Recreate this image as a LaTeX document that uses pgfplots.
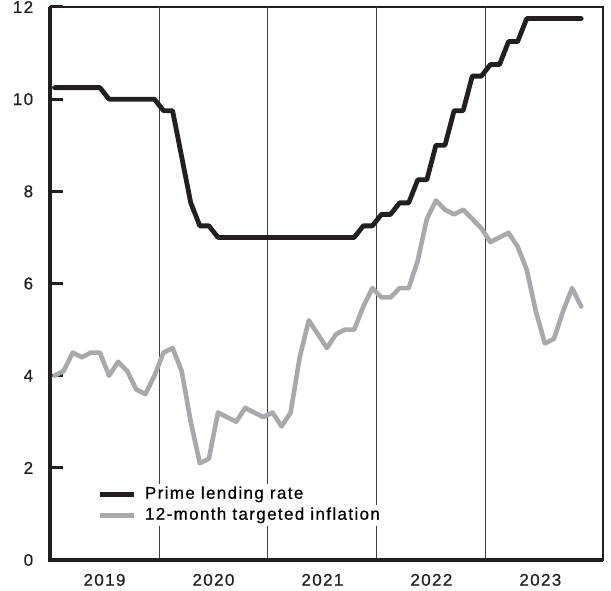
\documentclass[border=0pt]{standalone}
\usepackage{pgfplots}
\pgfplotsset{compat=1.18}
\usepackage{fontspec}
\setmainfont[LetterSpace=8, FakeBold=0.6]{Liberation Sans}
\usetikzlibrary{calc}
\definecolor{primec}{HTML}{231F20}
\definecolor{inflc}{HTML}{A7A9AC}
\begin{document}
\fontsize{17bp}{20bp}\selectfont
\begin{tikzpicture}
\begin{axis}[
  width=553bp, height=553bp, scale only axis,
  xmin=0, xmax=60.9, ymin=0, ymax=12,
  ytick={0,2,4,6,8,10,12},
  xtick={6,18,30,42,54},
  xticklabels={2019,2020,2021,2022,2023},
  /pgf/number format/assume math mode=true,
  tick label style={font=\fontsize{17bp}{20bp}\selectfont, text=primec},
  tick align=inside,
  y tick style={line width=3bp, primec},
  major tick length=13bp,
  ytick pos=left,
  x tick style={draw=none},
  xtick pos=bottom,
  yticklabel style={xshift=-11bp},
  xticklabel style={yshift=-8bp},
  axis line style={line width=2bp, primec},
  extra x ticks={12,24,36,48},
  extra x tick labels={},
  extra x tick style={grid=major, major grid style={line width=0.9bp, black!75}, tick style={draw=none}},
  legend style={draw=none, fill=none, at={(0.081,0.058)}, anchor=south west,
    font=\fontsize{17bp}{20bp}\selectfont, row sep=0pt, column sep=6bp,
    nodes={fill=white, inner sep=2bp, text height=13bp, text depth=4bp}},
  legend cell align=left,
  legend image code/.code={\draw[#1, line width=5bp, line cap=butt] (0bp,0bp) -- (34bp,0bp);},
  clip=false,
]
\addplot[primec, line width=4.8bp, line join=round, line cap=round] coordinates {
(0.5,10.25)(1.5,10.25)(2.5,10.25)(3.5,10.25)(4.5,10.25)(5.5,10.25)(6.5,10.0)(7.5,10.0)(8.5,10.0)(9.5,10.0)(10.5,10.0)(11.5,10.0)
(12.5,9.75)(13.5,9.75)(14.5,8.75)(15.5,7.75)(16.5,7.25)(17.5,7.25)(18.5,7.0)(19.5,7.0)(20.5,7.0)(21.5,7.0)(22.5,7.0)(23.5,7.0)
(24.5,7.0)(25.5,7.0)(26.5,7.0)(27.5,7.0)(28.5,7.0)(29.5,7.0)(30.5,7.0)(31.5,7.0)(32.5,7.0)(33.5,7.0)(34.5,7.25)(35.5,7.25)
(36.5,7.5)(37.5,7.5)(38.5,7.75)(39.5,7.75)(40.5,8.25)(41.5,8.25)(42.5,9.0)(43.5,9.0)(44.5,9.75)(45.5,9.75)(46.5,10.5)(47.5,10.5)
(48.5,10.75)(49.5,10.75)(50.5,11.25)(51.5,11.25)(52.5,11.75)(53.5,11.75)(54.5,11.75)(55.5,11.75)(56.5,11.75)(57.5,11.75)(58.5,11.75)
};
\addplot[inflc, line width=4.6bp, line join=round, line cap=round] coordinates {
(0.5,4.0)(1.5,4.1)(2.5,4.5)(3.5,4.4)(4.5,4.5)(5.5,4.5)(6.5,4.0)(7.5,4.3)(8.5,4.1)(9.5,3.7)(10.5,3.6)(11.5,4.0)
(12.5,4.5)(13.5,4.6)(14.5,4.1)(15.5,3.0)(16.5,2.1)(17.5,2.2)(18.5,3.2)(19.5,3.1)(20.5,3.0)(21.5,3.3)(22.5,3.2)(23.5,3.1)
(24.5,3.2)(25.5,2.9)(26.5,3.2)(27.5,4.4)(28.5,5.2)(29.5,4.9)(30.5,4.6)(31.5,4.9)(32.5,5.0)(33.5,5.0)(34.5,5.5)(35.5,5.9)
(36.5,5.7)(37.5,5.7)(38.5,5.9)(39.5,5.9)(40.5,6.5)(41.5,7.4)(42.5,7.8)(43.5,7.6)(44.5,7.5)(45.5,7.6)(46.5,7.4)(47.5,7.2)
(48.5,6.9)(49.5,7.0)(50.5,7.1)(51.5,6.8)(52.5,6.3)(53.5,5.4)(54.5,4.7)(55.5,4.8)(56.5,5.4)(57.5,5.9)(58.5,5.5)
};
\legend{Prime lending rate, 12-month targeted inflation}
\coordinate (SW) at (rel axis cs:0,0);
\coordinate (NW) at (rel axis cs:0,1);
\coordinate (SE) at (rel axis cs:1,0);
\coordinate (NE) at (rel axis cs:1,1);
\end{axis}
\draw[line width=3.2bp, primec, line join=miter] (NW) -- (SW) -- (SE);
\pgfresetboundingbox
\path[use as bounding box] ($(SW)+(-50bp,-31bp)$) rectangle ($(NE)+(8bp,7bp)$);
\end{tikzpicture}
\end{document}
